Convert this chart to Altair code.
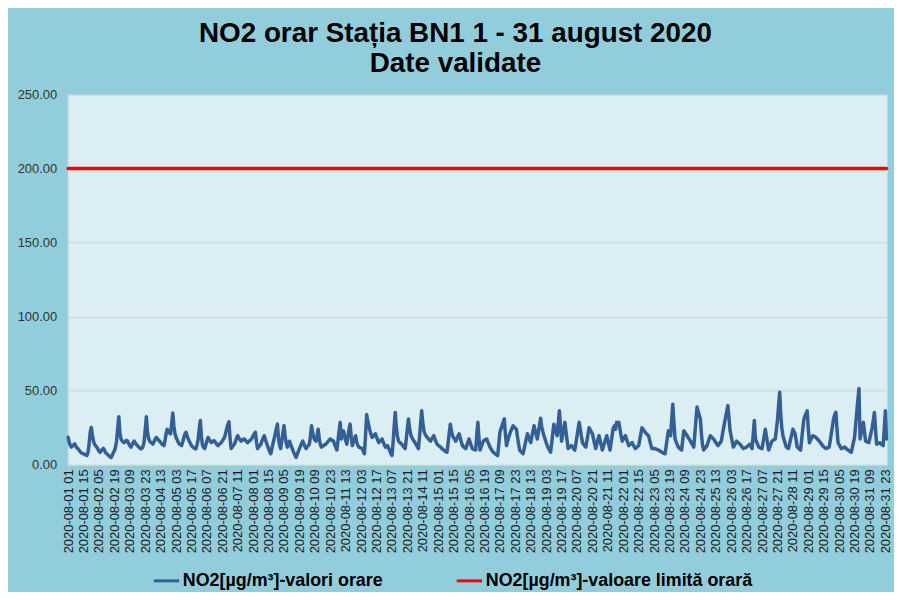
import altair as alt
import pandas as pd

# hourly NO2 values, one list per day (hours 01..24)
d01 = [18.6, 15.2, 13.1, 12.0, 12.8, 13.5, 14.2, 12.6, 11.3, 10.9, 9.8, 8.9, 8.1, 7.7, 7.5, 7.1, 6.6, 6.3, 8.4, 13.9, 21.7, 25.3, 20.1, 16.0]
d02 = [13.8, 12.9, 12.0, 10.6, 9.2, 8.5, 9.6, 10.4, 11.1, 9.8, 8.3, 7.5, 6.9, 6.1, 5.5, 5.0, 6.4, 8.2, 9.5, 11.8, 16.5, 24.7, 32.5, 21.3]
d03 = [17.5, 16.2, 15.4, 15.0, 15.8, 16.6, 16.0, 14.3, 12.9, 12.0, 13.4, 15.1, 16.0, 14.8, 13.7, 13.0, 12.1, 11.4, 10.8, 11.2, 12.5, 15.8, 23.6, 32.5]
d04 = [22.4, 17.9, 16.0, 15.2, 14.6, 14.0, 15.7, 17.3, 18.5, 17.6, 16.8, 16.0, 15.1, 14.2, 13.5, 13.0, 16.7, 21.2, 24.0, 22.8, 21.5, 21.0, 27.6, 35.0]
d05 = [26.3, 21.0, 18.5, 16.9, 15.2, 14.0, 13.6, 13.0, 15.4, 18.2, 20.7, 22.0, 19.6, 17.5, 16.0, 14.4, 13.0, 12.2, 11.6, 11.1, 10.8, 13.5, 17.0, 24.1]
d06 = [30.0, 19.4, 13.0, 11.8, 11.0, 13.6, 16.1, 18.5, 17.2, 16.0, 15.0, 15.5, 16.3, 16.0, 14.9, 13.8, 13.0, 13.7, 14.4, 15.0, 16.2, 17.4, 18.5, 21.3]
d07 = [24.6, 27.2, 29.0, 17.8, 11.0, 12.1, 13.2, 14.0, 16.1, 18.3, 19.7, 18.2, 17.0, 16.0, 16.7, 17.3, 17.5, 16.6, 15.7, 15.0, 15.8, 16.5, 17.0, 18.2]
d08 = [19.6, 20.9, 22.0, 15.3, 11.0, 12.1, 13.0, 14.0, 16.2, 18.1, 19.7, 17.4, 15.0, 13.0, 10.9, 8.8, 7.5, 11.0, 14.6, 17.5, 21.0, 24.4, 27.5, 18.2]
d09 = [13.1, 11.0, 16.2, 21.8, 26.4, 19.5, 14.6, 12.0, 14.1, 16.0, 13.8, 11.9, 10.0, 8.1, 6.4, 5.0, 7.2, 9.1, 11.0, 12.8, 14.5, 16.0, 14.2, 12.5]
d10 = [11.0, 12.1, 13.0, 14.0, 19.3, 26.4, 21.7, 18.4, 16.9, 16.0, 19.8, 24.0, 17.5, 13.6, 12.0, 12.5, 13.1, 13.6, 14.0, 14.9, 15.8, 16.7, 17.5, 16.8]
d11 = [16.3, 16.0, 13.7, 11.8, 10.0, 16.4, 23.1, 28.7, 17.5, 20.4, 23.0, 19.6, 16.5, 14.0, 19.1, 23.8, 27.5, 18.9, 13.0, 15.4, 17.8, 19.7, 15.3, 13.2]
d12 = [12.0, 11.6, 11.3, 11.0, 9.1, 7.5, 19.8, 34.0, 29.5, 26.4, 23.1, 20.6, 18.5, 19.4, 20.3, 21.0, 18.8, 16.7, 15.0, 15.9, 16.8, 17.5, 15.6, 13.7]
d13 = [12.0, 12.6, 13.0, 11.2, 9.4, 7.7, 6.3, 14.8, 26.1, 35.4, 25.2, 19.3, 16.0, 15.2, 14.5, 14.0, 12.9, 11.8, 11.0, 17.4, 24.6, 31.0, 24.3, 20.9]
d14 = [18.5, 17.2, 16.1, 15.0, 13.6, 12.2, 11.0, 18.7, 27.9, 36.5, 28.4, 23.0, 20.8, 19.6, 18.5, 17.6, 16.8, 16.0, 17.4, 18.6, 19.7, 17.5, 15.6, 14.0]
d15 = [13.2, 12.6, 12.0, 11.3, 10.6, 10.0, 9.4, 8.9, 8.5, 14.8, 21.6, 27.5, 22.9, 19.7, 18.4, 17.1, 16.0, 17.8, 19.5, 21.0, 18.2, 15.4, 13.0, 12.3]
d16 = [11.6, 11.0, 13.2, 15.4, 17.5, 15.2, 13.0, 11.0, 10.6, 10.3, 10.0, 20.4, 28.7, 17.9, 10.0, 12.1, 14.2, 16.0, 16.6, 17.1, 17.5, 15.6, 13.8, 12.0]
d17 = [10.7, 9.5, 8.5, 7.9, 7.3, 6.8, 6.3, 14.1, 22.0, 24.3, 26.6, 28.9, 31.0, 20.6, 13.0, 15.9, 18.6, 21.0, 22.9, 24.7, 26.4, 25.5, 24.7, 24.0]
d18 = [18.6, 13.9, 10.0, 9.1, 8.2, 7.5, 10.8, 14.3, 17.8, 21.0, 18.9, 16.8, 15.0, 18.9, 22.7, 26.4, 23.3, 20.2, 17.5, 22.3, 27.0, 31.5, 25.7, 22.4]
d19 = [19.7, 17.4, 15.1, 13.0, 11.4, 9.9, 8.5, 14.7, 21.3, 27.5, 24.8, 22.2, 19.7, 28.3, 36.5, 25.8, 16.0, 20.3, 24.6, 28.7, 22.6, 16.4, 11.0, 11.7]
d20 = [12.4, 13.0, 12.0, 10.9, 10.0, 14.6, 19.5, 24.2, 28.7, 23.9, 19.2, 15.0, 13.9, 12.8, 12.0, 16.3, 20.7, 25.0, 23.6, 22.2, 21.0, 17.5, 14.1, 11.0]
d21 = [14.2, 17.1, 19.7, 16.4, 13.1, 10.0, 12.4, 14.9, 17.3, 19.7, 16.4, 13.1, 10.0, 15.2, 20.3, 25.0, 26.3, 24.0, 28.7, 27.8, 28.7, 24.1, 19.8, 16.0]
d22 = [17.2, 18.5, 19.7, 17.4, 15.1, 13.0, 13.7, 14.4, 15.0, 13.6, 12.2, 11.0, 11.7, 12.4, 13.0, 17.1, 21.2, 25.0, 24.0, 23.0, 22.0, 21.1, 20.3, 19.7]
d23 = [16.5, 13.6, 11.0, 11.3, 10.8, 11.0, 10.6, 10.3, 10.0, 9.5, 9.0, 8.5, 8.1, 7.8, 7.5, 12.9, 18.2, 23.0, 21.2, 19.7, 30.8, 41.0, 28.6, 17.5]
d24 = [15.6, 13.7, 12.0, 11.3, 10.6, 10.0, 16.8, 23.0, 21.9, 20.8, 19.7, 18.4, 17.2, 16.0, 14.6, 13.3, 12.0, 21.1, 30.2, 39.0, 36.3, 33.6, 31.0, 20.4]
d25 = [13.2, 10.0, 11.0, 12.0, 13.0, 15.3, 17.5, 19.7, 18.9, 18.2, 17.5, 16.3, 15.1, 14.0, 13.0, 14.0, 15.0, 16.0, 20.3, 24.5, 28.7, 32.4, 36.2, 40.0]
d26 = [31.6, 23.0, 19.3, 15.6, 12.0, 13.3, 14.7, 16.0, 15.3, 14.6, 14.0, 13.0, 12.0, 11.0, 11.4, 11.7, 12.0, 12.7, 13.3, 14.0, 12.5, 11.0, 20.6, 30.0]
d27 = [17.5, 15.6, 13.8, 12.0, 11.7, 11.3, 11.0, 15.5, 19.8, 24.0, 19.3, 14.6, 10.0, 12.1, 14.0, 16.0, 16.5, 17.0, 17.5, 23.8, 30.0, 39.6, 49.0, 33.5]
d28 = [24.8, 19.7, 17.0, 14.4, 12.0, 11.5, 11.0, 14.2, 17.5, 20.8, 24.0, 22.5, 21.0, 16.4, 12.0, 11.3, 10.6, 10.0, 17.2, 24.3, 31.0, 32.9, 34.7, 36.5]
d29 = [24.3, 15.0, 16.6, 18.1, 19.7, 19.3, 18.9, 18.5, 17.6, 16.8, 16.0, 15.0, 14.0, 13.0, 12.3, 11.6, 11.0, 11.3, 11.7, 12.0, 16.8, 21.6, 26.4, 31.1]
d30 = [33.8, 35.4, 24.6, 15.0, 13.6, 12.3, 11.0, 11.3, 11.7, 12.0, 11.3, 10.6, 10.0, 9.5, 9.0, 8.5, 11.8, 15.2, 18.5, 26.9, 35.4, 43.6, 51.5, 17.5]
d31 = [21.3, 25.0, 28.7, 22.4, 16.0, 15.7, 15.3, 15.0, 18.4, 21.7, 25.0, 30.2, 35.4, 24.7, 14.0, 14.3, 14.7, 15.0, 14.3, 13.6, 13.0, 24.8, 36.5, 17.5]

LIMIT = 200.0
SERIES_1 = "NO2[µg/m³]-valori orare"
SERIES_2 = "NO2[µg/m³]-valoare limită orară"
TITLE = ["NO2 orar Stația BN1 1 - 31 august 2020", "Date validate"]
Y_TICKS = [0, 50, 100, 150, 200, 250]

days = [d01, d02, d03, d04, d05, d06, d07, d08, d09, d10, d11, d12, d13, d14, d15, d16,
        d17, d18, d19, d20, d21, d22, d23, d24, d25, d26, d27, d28, d29, d30, d31]
no2 = [v for d in days for v in d]
labels = list(pd.date_range("2020-08-01 01:00", periods=len(no2), freq="h").strftime("%Y-%m-%d %H"))
tick_labels = labels[::14]

df1 = pd.DataFrame({"time": labels, "val": no2, "serie": SERIES_1})
df2 = pd.DataFrame({"time": labels, "val": [LIMIT] * len(labels), "serie": SERIES_2})
data = pd.concat([df1, df2], ignore_index=True)

FONT = "Liberation Sans"

chart = alt.Chart(data).mark_line(strokeWidth=3.5, strokeJoin="round", strokeCap="round").encode(
    x=alt.X("time:O", sort=None,
            axis=alt.Axis(values=tick_labels, labelAngle=-90, title=None, ticks=False, domain=False,
                          labelFont=FONT, labelFontSize=13, labelColor="#1a1a1a", labelPadding=4,
                          labelOverlap=False)),
    y=alt.Y("val:Q", scale=alt.Scale(domain=[0, 250]),
            axis=alt.Axis(values=Y_TICKS, format=".2f", title=None, ticks=False, domain=False,
                          labelFont=FONT, labelFontSize=13, labelColor="#333333", labelPadding=11,
                          gridColor="#D0D0D0", gridWidth=1)),
    color=alt.Color("serie:N", scale=alt.Scale(domain=[SERIES_1, SERIES_2], range=["#335F95", "#FF0000"]),
                    legend=alt.Legend(orient="none", legendX=85, legendY=475, direction="horizontal",
                                      title=None, symbolType="stroke", symbolStrokeWidth=3, symbolSize=650,
                                      labelFont=FONT, labelFontSize=18, labelFontWeight="bold",
                                      labelColor="black", labelOffset=2, columnPadding=67, labelLimit=400)),
).properties(
    width=825, height=373,
    padding={"left": 9, "right": 1, "top": 10, "bottom": 0},
    background="#92CDDC",
    title=alt.TitleParams(text=TITLE, font=FONT, fontSize=28, fontWeight="bold", color="black",
                          anchor="middle", lineHeight=30, offset=11, dx=-22),
).configure_view(fill="#DBEEF3", stroke="#C9D6DA", strokeWidth=1)

chart.save("out.html", embed_options={"renderer": "svg", "actions": False})
